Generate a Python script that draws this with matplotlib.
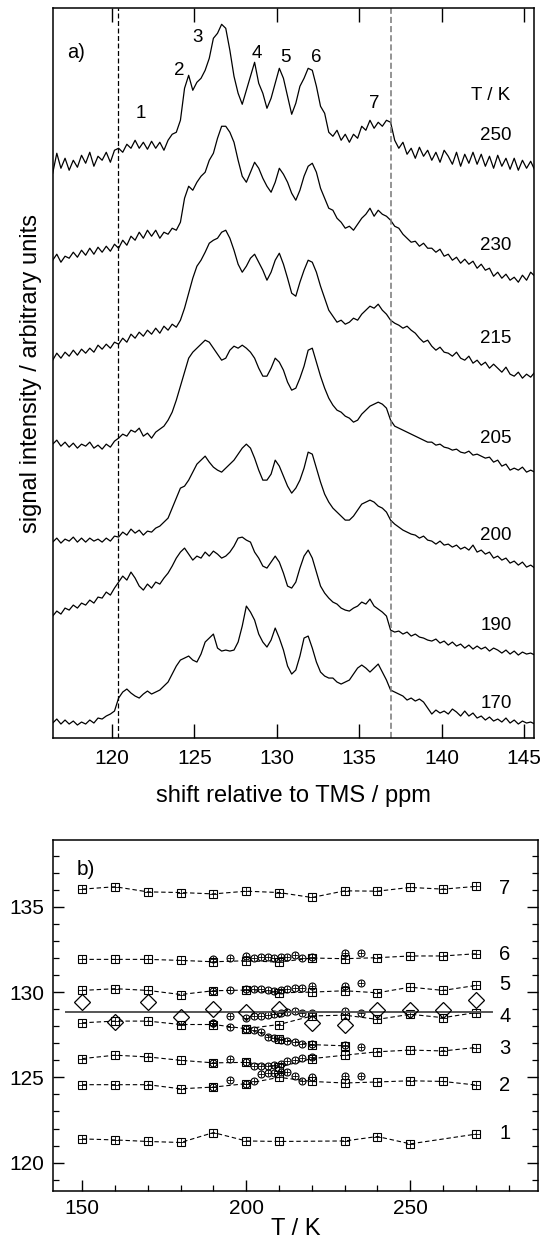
#!/usr/bin/env python3
"""13C spectra vs temperature (a) and peak positions vs T (b)."""

import numpy as np
import matplotlib
matplotlib.use('Agg')
import matplotlib.pyplot as plt

plt.rcParams.update({
    'font.family': ['Liberation Sans', 'DejaVu Sans'],
    'font.size': 13,
    'axes.linewidth': 1.1,
    'figure.facecolor': 'white',
})

# ============================================================
# DATA, panel a: spectra read on a 0.25 ppm grid (116.40 ... 145.65)
# intensity in arbitrary units
# ============================================================
ppm = np.linspace(116.40, 145.65, 118)

int_250 = [565, 585, 570, 580,   568, 578, 571, 583,   575, 586, 572, 582,
           578, 586, 576, 588,   590, 586, 594, 590,   598, 590, 596, 589,
           597, 590, 596, 588,   598, 604, 606, 618,   650, 663, 648, 656,
           660, 668, 680, 700,   705, 714, 710, 688,   662, 645, 634, 648,
           662, 676, 655, 645,   630, 640, 655, 670,   660, 642, 624, 635,
           652, 660, 670, 668,   652, 632, 625, 606,   602, 608, 598, 604,
           596, 604, 600, 612,   608, 618, 610, 616,   612, 618, 616, 598,
           590, 596, 584, 590,   580, 591, 582, 588,   578, 586, 576, 588,
           582, 574, 586, 572,   584, 575, 586, 574,   584, 572, 582, 570,
           583, 572, 580, 569,   580, 568, 578, 570,   577, 568]

int_230 = [478, 484, 476, 482,   480, 486, 481, 488,   483, 490, 484, 491,
           486, 492, 487, 494,   490, 498, 493, 502,   498, 506, 500, 508,
           502, 508, 500, 506,   504, 510, 508, 516,   540, 552, 548, 556,
           562, 566, 578, 585,   600, 612, 612, 606,   596, 578, 562, 556,
           566, 576, 570, 560,   552, 546, 556, 570,   564, 556, 545, 538,
           548, 562, 572, 575,   566, 550, 540, 530,   528, 520, 516, 510,
           512, 508, 514, 520,   524, 530, 522, 528,   524, 522, 518, 512,
           510, 504, 500, 496,   497, 492, 495, 490,   490, 486, 489, 482,
           484, 478, 481, 475,   479, 474, 477, 470,   474, 468, 470, 462,
           466, 460, 464, 458,   461, 456, 463, 458,   466, 462]

int_215 = [378, 385, 380, 386,   382, 388, 383, 389,   385, 390, 386, 393,
           389, 394, 390, 396,   394, 400, 396, 404,   400, 406, 402, 408,
           404, 410, 405, 412,   408, 414, 411, 418,   430, 445, 460, 472,
           478, 486, 495, 498,   500, 506, 508, 500,   488, 474, 466, 472,
           480, 484, 476, 468,   458, 466, 478, 485,   474, 460, 445, 442,
           456, 468, 478, 476,   466, 452, 440, 428,   422, 416, 418, 414,
           416, 420, 418, 424,   428, 432, 430, 434,   428, 424, 418, 415,
           413, 410, 412, 408,   405, 400, 396, 398,   392, 388, 391, 386,
           385, 382, 386, 380,   378, 382, 375, 378,   373, 376, 370, 374,
           370, 366, 371, 364,   362, 366, 360, 364,   361, 366]

int_205 = [294, 298, 292, 296,   291, 295, 290, 294,   292, 296, 290, 293,
           289, 294, 291, 297,   300, 304, 302, 308,   306, 310, 302, 305,
           300, 306, 309, 312,   318, 326, 338, 352,   366, 380, 386, 390,
           394, 398, 396, 390,   384, 378, 380, 388,   392, 390, 393, 390,
           386, 380, 370, 362,   362, 370, 380, 376,   368, 356, 348, 350,
           360, 372, 388, 390,   376, 362, 350, 340,   333, 328, 326, 322,
           320, 316, 318, 324,   328, 332, 334, 336,   334, 330, 318, 312,
           310, 308, 306, 304,   302, 300, 298, 296,   296, 293, 294, 291,
           290, 288, 289, 286,   285, 287, 283, 284,   282, 280, 281, 276,
           278, 272, 274, 268,   270, 268, 271, 266,   268, 266]

int_200 = [196, 200, 195, 199,   197, 201, 196, 200,   196, 200, 197, 199,
           196, 200, 197, 202,   201, 206, 203, 209,   205, 208, 203, 207,
           206, 210, 212, 216,   220, 230, 240, 250,   252, 258, 266, 274,
           278, 282, 276, 271,   268, 266, 270, 274,   278, 284, 290, 294,
           290, 280, 268, 258,   258, 264, 278, 272,   262, 252, 245, 250,
           258, 270, 286, 284,   270, 256, 244, 236,   230, 226, 222, 218,
           218, 222, 228, 234,   236, 238, 236, 232,   230, 226, 218, 214,
           211, 208, 206, 204,   203, 200, 202, 198,   197, 194, 197, 193,
           194, 191, 193, 189,   191, 188, 193, 186,   188, 184, 186, 180,
           182, 178, 180, 175,   177, 173, 176, 171,   173, 170]

int_190 = [122, 127, 124, 130,   128, 133, 130, 135,   133, 138, 135, 141,
           140, 146, 143, 150,   156, 162, 158, 166,   160, 152, 148, 154,
           150, 156, 154, 160,   165, 172, 180, 186,   190, 184, 178, 182,
           180, 186, 182, 187,   184, 180, 182, 186,   192, 200, 201, 198,
           196, 186, 180, 172,   170, 176, 182, 176,   165, 152, 150, 156,
           170, 182, 188, 180,   166, 152, 145, 140,   136, 134, 130, 128,
           127, 130, 132, 136,   134, 139, 132, 129,   126, 122, 108, 106,
           107, 104, 106, 102,   104, 101, 100, 98,    97, 99, 95, 97,
           93, 96, 92, 94,       90, 93, 89, 92,      89, 91, 87, 90,
           88, 85, 88, 84,       87, 83, 86, 84,      85, 83]

int_170 = [15, 19, 14, 18,       14, 17, 13, 16,      14, 18, 15, 20,
           19, 22, 24, 27,       40, 46, 49, 45,      42, 40, 44, 47,
           44, 46, 48, 52,       56, 64, 72, 78,      80, 82, 78, 76,
           84, 96, 100, 104,     90, 87, 88, 87,      88, 96, 112, 132,
           126, 118, 104, 96,    91, 98, 110, 100,    88, 72, 64, 68,
           82, 100, 102, 90,     76, 66, 62, 60,      60, 56, 54, 56,
           58, 64, 70, 73,       70, 66, 70, 74,      66, 58, 48, 46,
           44, 42, 38, 40,       37, 39, 36, 30,      24, 28, 25, 27,
           24, 29, 26, 22,       27, 22, 25, 20,      22, 18, 21, 17,
           19, 16, 20, 15,       18, 14, 17, 15,      16, 14]

spectra = [int_250, int_230, int_215, int_205, int_200, int_190, int_170]
temp_labels = ['250', '230', '215', '205', '200', '190', '170']
peak_labels = ['1', '2', '3', '4', '5', '6', '7']
marker_ppm = [120.36, 136.92]   # dashed guide lines

# ============================================================
# DATA, panel b: peak positions vs temperature
# ============================================================
T_sq = [150, 160, 170, 180, 190, 200, 210, 220, 230, 240, 250, 260, 270]
sq7 = [136.04, 136.18, 135.88, 135.84, 135.76, 135.92, 135.84, 135.55, 135.94, 135.92, 136.14, 136.04, 136.20]
sq6 = [131.92, 131.92, 131.92, 131.86, 131.78, 131.84, 131.76, 132.00, 131.96, 132.02, 132.12, 132.12, 132.25]
sq5 = [130.10, 130.20, 130.10, 129.86, 130.08, 130.12, 129.96, 130.00, 130.08, 129.96, 130.29, 130.10, 130.39]
sq4 = [128.20, 128.30, 128.30, 128.10, 128.10, 127.85, 128.10, 128.60, 128.65, 128.40, 128.70, 128.50, 128.80]
sq3 = [126.10, 126.30, 126.20, 126.00, 125.85, 125.88, 125.60, 126.10, 126.30, 126.50, 126.60, 126.55, 126.75]
sq2 = [124.57, 124.57, 124.57, 124.33, 124.43, 124.63, 125.00, 124.76, 124.67, 124.73, 124.80, 124.76, 124.55]
T_sq4b = [200, 210, 220, 230]
sq4b = [127.84, 127.26, 126.92, 126.85]
T_sq1 = [150, 160, 170, 180, 190, 200, 210, 230, 240, 250, 270]
sq1 = [121.39, 121.33, 121.24, 121.18, 121.76, 121.27, 121.24, 121.27, 121.53, 121.10, 121.67]

T_ci = [190, 195, 200, 202.5, 204.5, 206.5, 208.5, 210.5, 212.5, 215, 217, 220, 230, 235]
ci6 = [131.92, 132.02, 132.12, 132.02, 132.08, 132.08, 132.02, 132.08, 132.08, 132.16, 132.02, 132.08, 132.27, 132.27]
ci5 = [130.06, 130.10, 130.16, 130.16, 130.16, 130.12, 130.06, 130.12, 130.20, 130.26, 130.26, 130.35, 130.35, 130.51]
ci4 = [128.20, 128.60, 128.49, 128.59, 128.59, 128.63, 128.69, 128.75, 128.82, 128.88, 128.78, 128.78, 128.88, 128.75]
ci4b = [128.20, 127.96, 127.84, 127.80, 127.65, 127.37, 127.30, 127.18, 127.12, 127.06, 126.98, 126.96, 126.90, 126.78]
ci3 = [125.84, 126.08, 125.88, 125.69, 125.69, 125.65, 125.75, 125.80, 125.94, 126.04, 126.14, 126.20, np.nan, np.nan]
ci2 = [124.43, 124.82, 124.63, 124.76, 125.20, 125.25, 125.25, 125.30, 125.33, 125.08, 124.76, 125.00, 125.10, 125.10]

T_dia = [150, 160, 170, 180, 190, 200, 210, 220, 230, 240, 250, 260, 270]
dia = [129.41, 128.25, 129.41, 128.55, 129.02, 128.82, 129.02, 128.20, 128.10, 128.94, 128.98, 128.94, 129.53]

ref_T = [145, 275]
ref_val = 128.82
series_names = ['7', '6', '5', '4', '3', '2', '1']
series_end = [136.08, 132.20, 130.45, 128.59, 126.67, 124.51, 121.73]

# ============================================================
# FIGURE
# ============================================================
fig = plt.figure(figsize=(5.42, 12.41), dpi=100)

# ---------- a) spectra ----------
ax1 = fig.add_axes([0.0972, 0.4053, 0.888, 0.588])
for inten in spectra:
    ax1.plot(ppm, inten, color='black', linewidth=0.9)
ax1.axvline(marker_ppm[0], color='black', linestyle=(0, (4, 2)), linewidth=0.9)
ax1.axvline(marker_ppm[1], color='#777777', linestyle=(0, (4, 2)), linewidth=1.1)

ax1.set_xlim(116.4, 145.6)
ax1.set_ylim(0, 730)
ax1.set_xticks([120, 125, 130, 135, 140, 145])
ax1.set_yticks([])
ax1.tick_params(axis='x', direction='in', length=10, width=1.0, top=True, bottom=True,
                labelsize=15, pad=8)
ax1.set_xlabel('shift relative to TMS / ppm', fontsize=17, labelpad=12)
ax1.set_ylabel('signal intensity / arbitrary units', fontsize=17, labelpad=8)

ax1.text(117.8, 686, 'a)', fontsize=14.5, ha='center', va='center')
peak_pos = [(121.76, 625), (124.06, 668), (125.21, 701), (128.81, 685),
            (130.51, 681), (132.37, 681), (135.89, 635)]
for lab, (px, py) in zip(peak_labels, peak_pos):
    ax1.text(px, py, lab, fontsize=13.5, ha='center', va='center')
ax1.text(142.95, 643, 'T / K', fontsize=13.5, ha='center', va='center')
temp_y = [603, 493, 400, 300, 203, 113, 35]
for lab, ty in zip(temp_labels, temp_y):
    ax1.text(143.3, ty, lab, fontsize=13.5, ha='center', va='center')

# ---------- b) peak positions ----------
ax2 = fig.add_axes([0.0972, 0.0405, 0.8958, 0.2826])
dash = (0, (4, 2.5))
sq_kw = dict(color='black', linewidth=0.8, linestyle=dash, marker='s', markersize=5.6,
             markerfacecolor='none', markeredgecolor='black', markeredgewidth=0.8)
plus_kw = dict(linestyle='none', marker='+', color='black', markersize=5.6, markeredgewidth=0.6)
for T, vals in [(T_sq, sq7), (T_sq, sq6), (T_sq, sq5), (T_sq, sq4), (T_sq4b, sq4b),
                (T_sq, sq3), (T_sq, sq2), (T_sq1, sq1)]:
    ax2.plot(T, vals, **sq_kw)
    ax2.plot(T, vals, **plus_kw)

ci_kw = dict(linestyle='none', marker='o', markersize=5, markerfacecolor='none',
             markeredgecolor='black', markeredgewidth=0.8)
for vals in [ci6, ci5, ci4, ci4b, ci3, ci2]:
    ax2.plot(T_ci, vals, **ci_kw)
    ax2.plot(T_ci, vals, linestyle='none', marker='+', color='black', markersize=5,
             markeredgewidth=0.6)

ax2.plot(ref_T, [ref_val, ref_val], color='#555555', linewidth=1.4)
ax2.plot(T_dia, dia, linestyle='none', marker='D', markersize=7.8, markerfacecolor='none',
         markeredgecolor='black', markeredgewidth=0.9)

for name, yv in zip(series_names, series_end):
    ax2.text(278.8, yv, name, fontsize=14.5, ha='center', va='center')
ax2.text(151, 137.2, 'b)', fontsize=15, ha='center', va='center')

ax2.set_xlim(141, 289)
ax2.set_ylim(118.35, 138.92)
ax2.set_xticks([150, 200, 250])
ax2.set_xticks(np.arange(150, 290, 10), minor=True)
ax2.set_yticks([120, 125, 130, 135])
ax2.set_yticks(np.arange(119, 139, 1), minor=True)
ax2.tick_params(axis='both', which='major', direction='in', length=8, width=1.0,
                labelsize=15, pad=6)
ax2.tick_params(axis='both', which='minor', direction='in', length=4, width=0.9)
ax2.tick_params(axis='y', which='both', left=True, right=True)
ax2.set_xlabel('T / K', fontsize=17, labelpad=0)

plt.savefig('out.png', dpi=100)
plt.close()
